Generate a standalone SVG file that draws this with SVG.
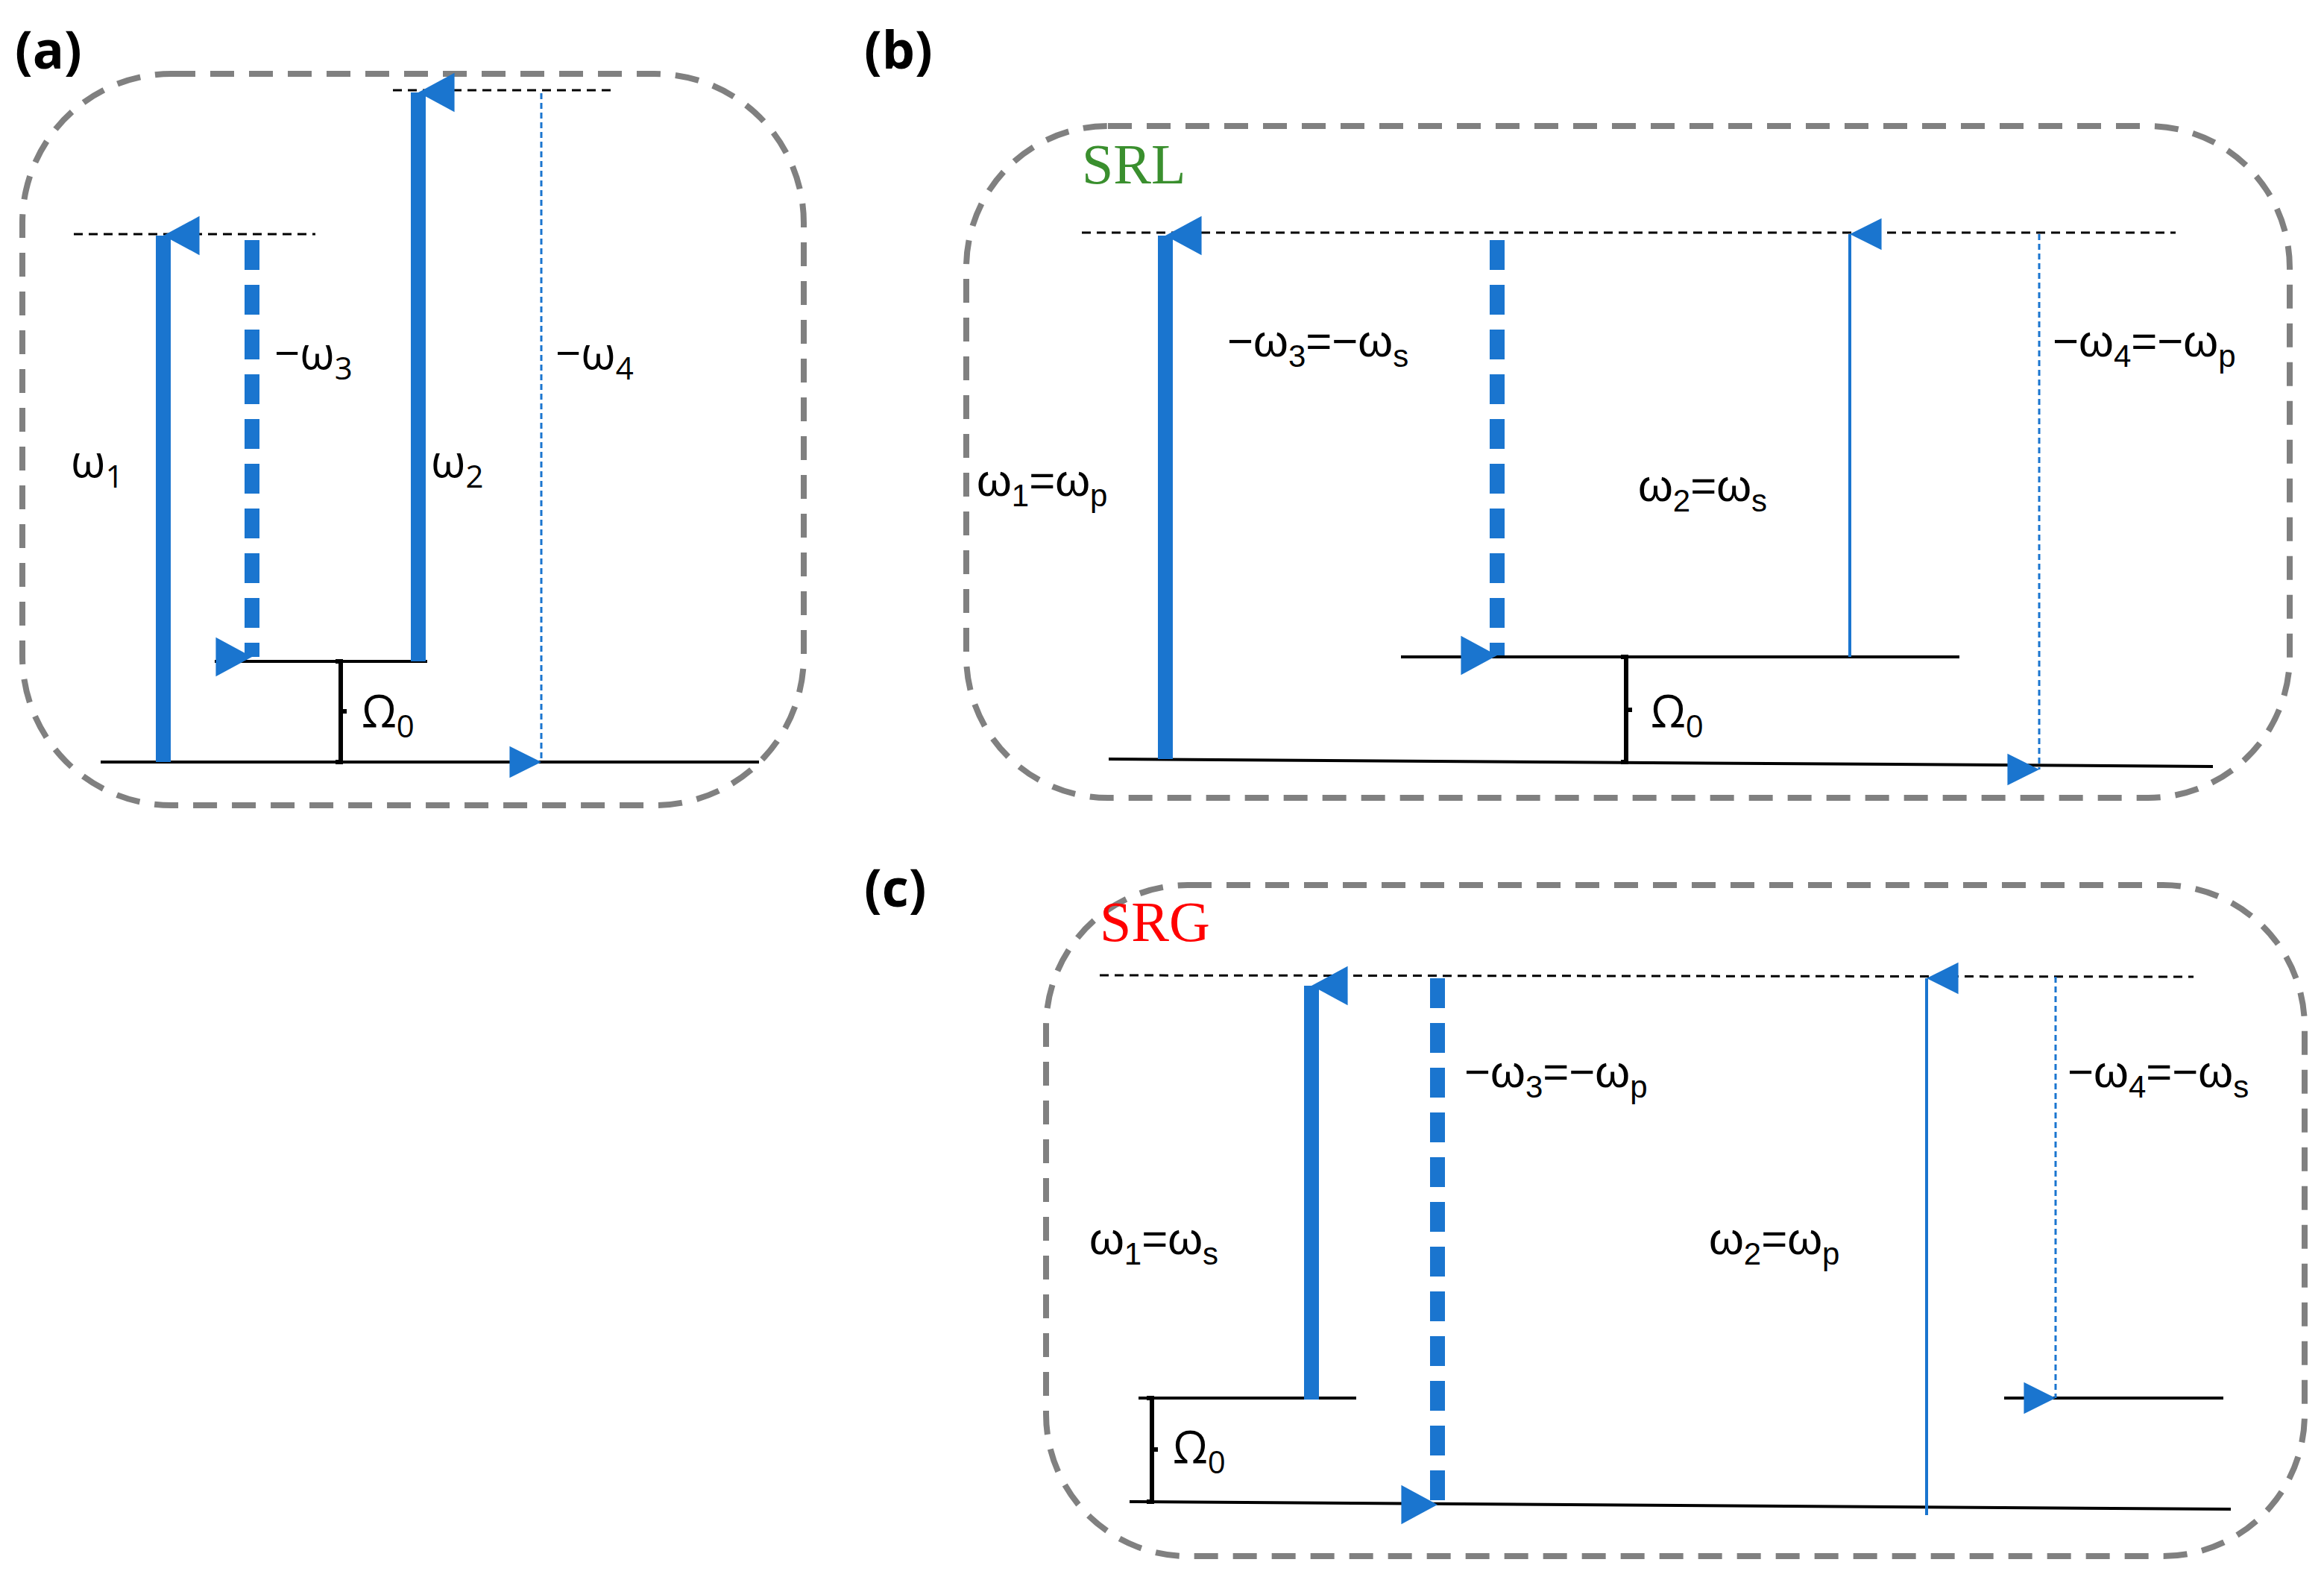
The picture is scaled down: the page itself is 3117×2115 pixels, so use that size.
<svg xmlns="http://www.w3.org/2000/svg" width="3117" height="2115" viewBox="0 0 3117 2115">
<defs>
<marker id="hb" markerUnits="userSpaceOnUse" markerWidth="56" markerHeight="56" refX="28" refY="0" orient="auto-start-reverse" viewBox="0 -4 56 60"><polygon points="0,52 28,0 56,52" fill="#1a75cf"/></marker>
<marker id="hs" markerUnits="userSpaceOnUse" markerWidth="46" markerHeight="50" refX="23" refY="0" orient="auto-start-reverse" viewBox="0 -4 46 54"><polygon points="0,46 23,0 46,46" fill="#1a75cf"/></marker>
</defs>
<style>
.box{fill:none;stroke:#808080;stroke-width:8;stroke-dasharray:32 20}
.lvl{stroke:#000;stroke-width:4;fill:none}
.virt{stroke:#000;stroke-width:3;stroke-dasharray:12 8;fill:none}
.thick{stroke:#1a75cf;stroke-width:20;fill:none}
.dash{stroke:#1a75cf;stroke-width:20;stroke-dasharray:40 20;fill:none}
.thin{stroke:#1a75cf;stroke-width:4;fill:none}
.dot{stroke:#1a75cf;stroke-width:3;stroke-dasharray:8 5;fill:none}
.br{stroke:#000;stroke-width:6;fill:none}
.lab{font-family:"Open Sans","Liberation Sans",sans-serif;font-size:60px;fill:#000}
.cl{font-family:"Liberation Sans",sans-serif;font-size:60px;fill:#000}
.pan{font-family:"Open Sans","Liberation Sans",sans-serif;font-size:70px;font-weight:bold;fill:#000}
.tag{font-family:"Liberation Serif",serif;font-size:76px}
</style>
<g id="panel-a">
<text class="pan" x="20" y="92">(a)</text>
<rect class="box" x="30" y="99" width="1048" height="981" rx="200"/>
<line class="lvl" x1="135" y1="1022" x2="1018" y2="1022"/>
<line class="lvl" x1="288" y1="887" x2="573" y2="887"/>
<line class="virt" x1="99" y1="314" x2="423" y2="314"/>
<line class="virt" x1="527" y1="121" x2="821" y2="121"/>
<path class="br" d="M450,887 H457 V1022 H450 M457,954 H465"/>
<text class="lab" x="95" y="640">ω<tspan font-size="42" dy="14">1</tspan></text>
<text class="lab" x="368" y="495">−ω<tspan font-size="42" dy="14">3</tspan></text>
<text class="lab" x="578" y="640">ω<tspan font-size="42" dy="14">2</tspan></text>
<text class="lab" x="745" y="495">−ω<tspan font-size="42" dy="14">4</tspan></text>
<text class="lab" x="485" y="975">Ω<tspan font-size="42" dy="14">0</tspan></text>
</g>
<g id="panel-b">
<text class="pan" x="1159" y="92">(b)</text>
<rect class="box" x="1296" y="169" width="1775" height="901" rx="190"/>
<text class="tag" x="1451" y="246" fill="#3a8f2e">SRL</text>
<line class="virt" x1="1451" y1="312" x2="2918" y2="312"/>
<line class="lvl" x1="1487" y1="1018" x2="2968" y2="1028"/>
<line class="lvl" x1="1879" y1="881" x2="2628" y2="881"/>
<path class="br" d="M2174,881 H2181 V1022 H2174 M2181,952 H2189"/>
<text class="cl" x="1310" y="665">ω<tspan font-size="42" dy="14">1</tspan><tspan dy="-14">=ω</tspan><tspan font-size="42" dy="14">p</tspan></text>
<text class="cl" x="1646" y="478">−ω<tspan font-size="42" dy="14">3</tspan><tspan dy="-14">=−ω</tspan><tspan font-size="42" dy="14">s</tspan></text>
<text class="cl" x="2197" y="672">ω<tspan font-size="42" dy="14">2</tspan><tspan dy="-14">=ω</tspan><tspan font-size="42" dy="14">s</tspan></text>
<text class="cl" x="2753" y="478">−ω<tspan font-size="42" dy="14">4</tspan><tspan dy="-14">=−ω</tspan><tspan font-size="42" dy="14">p</tspan></text>
<text class="lab" x="2214" y="975">Ω<tspan font-size="42" dy="14">0</tspan></text>
</g>
<g id="panel-c">
<text class="pan" x="1159" y="1216">(c)</text>
<rect class="box" x="1403" y="1187" width="1688" height="900" rx="190"/>
<text class="tag" x="1475" y="1262" fill="#ff0000">SRG</text>
<line class="virt" x1="1475" y1="1308" x2="2942" y2="1310"/>
<line class="lvl" x1="1515" y1="2014" x2="2992" y2="2024"/>
<line class="lvl" x1="1527" y1="1875" x2="1819" y2="1875"/>
<line class="lvl" x1="2688" y1="1875" x2="2982" y2="1875"/>
<path class="br" d="M1538,1875 H1545 V2014 H1538 M1545,1944 H1553"/>
<text class="cl" x="1461" y="1682">ω<tspan font-size="42" dy="14">1</tspan><tspan dy="-14">=ω</tspan><tspan font-size="42" dy="14">s</tspan></text>
<text class="cl" x="1964" y="1458">−ω<tspan font-size="42" dy="14">3</tspan><tspan dy="-14">=−ω</tspan><tspan font-size="42" dy="14">p</tspan></text>
<text class="cl" x="2292" y="1682">ω<tspan font-size="42" dy="14">2</tspan><tspan dy="-14">=ω</tspan><tspan font-size="42" dy="14">p</tspan></text>
<text class="cl" x="2773" y="1458">−ω<tspan font-size="42" dy="14">4</tspan><tspan dy="-14">=−ω</tspan><tspan font-size="42" dy="14">s</tspan></text>
<text class="lab" x="1573" y="1962">Ω<tspan font-size="42" dy="14">0</tspan></text>
</g>
<g id="connectors">
<line class="thick" x1="219" y1="1022" x2="219" y2="316" marker-end="url(#hb)"/>
<line class="dash" x1="338" y1="322" x2="338" y2="881" marker-end="url(#hb)"/>
<line class="thick" x1="561" y1="887" x2="561" y2="124" marker-end="url(#hb)"/>
<line class="dot" x1="726" y1="125" x2="726" y2="1022" marker-end="url(#hs)"/>
<line class="thick" x1="1563" y1="1018" x2="1563" y2="316" marker-end="url(#hb)"/>
<line class="dash" x1="2008" y1="322" x2="2008" y2="879" marker-end="url(#hb)"/>
<line class="thin" x1="2481" y1="881" x2="2481" y2="314" marker-end="url(#hs)"/>
<line class="dot" x1="2735" y1="314" x2="2735" y2="1032" marker-end="url(#hs)"/>
<line class="thick" x1="1759" y1="1877" x2="1759" y2="1322" marker-end="url(#hb)"/>
<line class="dash" x1="1928" y1="1312" x2="1928" y2="2018" marker-end="url(#hb)"/>
<line class="thin" x1="2584" y1="2032" x2="2584" y2="1312" marker-end="url(#hs)"/>
<line class="dot" x1="2757" y1="1310" x2="2757" y2="1875" marker-end="url(#hs)"/>
</g>
</svg>
